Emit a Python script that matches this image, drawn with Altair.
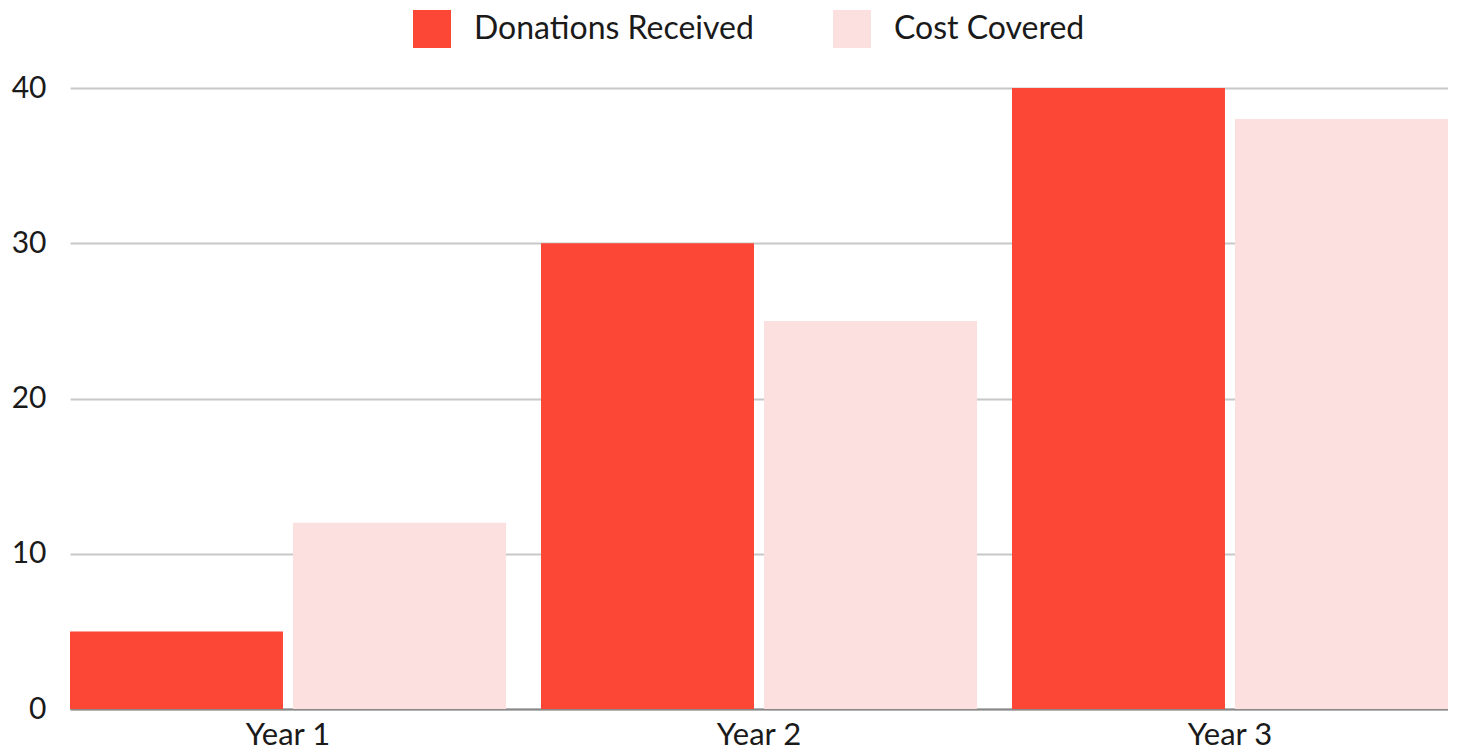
import altair as alt
import pandas as pd

years = ["Year 1", "Year 2", "Year 3"]
series = ["Donations Received", "Cost Covered"]
donations = [5, 30, 40]
cost_covered = [12, 25, 38]
colors = ["#FC4636", "#FCE0E0"]

rows = []
for i, y in enumerate(years):
    rows.append({"year": y, "series": series[0], "value": donations[i]})
    rows.append({"year": y, "series": series[1], "value": cost_covered[i]})
df = pd.DataFrame(rows)

FONT = "Lato"

chart = alt.Chart(df).mark_bar().encode(
    x=alt.X("year:N", sort=years, title=None,
            scale=alt.Scale(paddingInner=0.0743, paddingOuter=0),
            axis=alt.Axis(labelAngle=0, ticks=False, labelPadding=11,
                          domain=True, domainColor="#888888", domainWidth=2,
                          labelFontSize=31, labelColor="#1a1a1a", labelFont=FONT)),
    xOffset=alt.XOffset("series:N", sort=series,
                        scale=alt.Scale(paddingInner=0.045, paddingOuter=0)),
    y=alt.Y("value:Q", title=None,
            scale=alt.Scale(domain=[0, 40], nice=False),
            axis=alt.Axis(values=[0, 10, 20, 30, 40], domain=False, ticks=False,
                          labelPadding=24, grid=True, gridColor="#C8C8C8", gridWidth=2,
                          labelFontSize=30, labelColor="#1a1a1a", labelFont=FONT)),
    color=alt.Color("series:N", sort=series, title=None,
                    scale=alt.Scale(domain=series, range=colors),
                    legend=alt.Legend(orient="none", legendX=343, legendY=-78,
                                      direction="horizontal", symbolType="square",
                                      symbolSize=1444, symbolStrokeWidth=0,
                                      symbolOpacity=1, labelFontSize=32,
                                      labelFont=FONT, labelColor="#1a1a1a",
                                      labelOffset=23, columnPadding=79,
                                      labelLimit=600)),
).properties(
    width=1378,
    height=621,
    autosize=alt.AutoSizeParams(type="none"),
    padding={"left": 62, "top": 80, "right": 0, "bottom": 39},
).configure_view(stroke=None)

chart.save("out.html", embed_options={"renderer": "svg", "actions": False})
